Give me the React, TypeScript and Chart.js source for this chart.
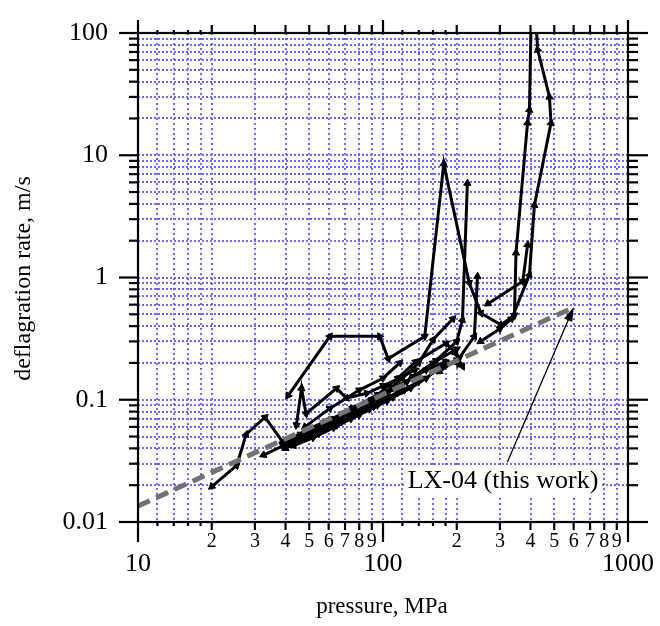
import React, { useEffect, useRef } from "react";
import { Chart, registerables } from "chart.js";

Chart.register(...registerables);

// ---------- axis definitions ----------
const X_MIN = 10;
const X_MAX = 1000;
const Y_MIN = 0.01;
const Y_MAX = 100;
const X_MAJOR = [10, 100, 1000];
const X_MAJOR_LABELS = ["10", "100", "1000"];
const X_MINOR = [20, 30, 40, 50, 60, 70, 80, 90, 200, 300, 400, 500, 600, 700, 800, 900];
const X_MINOR_LABELS = ["2", "3", "4", "5", "6", "7", "8", "9", "2", "3", "4", "5", "6", "7", "8", "9"];
const X_SUB = [12, 14, 16, 18, 120, 140, 160, 180];
const Y_MAJOR = [0.01, 0.1, 1, 10, 100];
const Y_MAJOR_LABELS = ["0.01", "0.1", "1", "10", "100"];
const Y_MINOR = [
  0.02, 0.03, 0.04, 0.05, 0.06, 0.07, 0.08, 0.09,
  0.2, 0.3, 0.4, 0.5, 0.6, 0.7, 0.8, 0.9,
  2, 3, 4, 5, 6, 7, 8, 9,
  20, 30, 40, 50, 60, 70, 80, 90,
];
const X_TITLE = "pressure, MPa";
const Y_TITLE = "deflagration rate, m/s";
const NOTE_TEXT = "LX-04 (this work)";

// ---------- data (pressure MPa, rate m/s) ----------
const LX04_FIT = [[10, 0.0135], [600, 0.57]];
const NOTE_FROM = [322, 0.031];
const NOTE_TO = [600, 0.57];

const S0 = [[32.5, 0.0353], [39, 0.042], [45, 0.047], [54, 0.055], [64, 0.064], [76, 0.076], [90, 0.089], [105, 0.1]];
const S1 = [[20, 0.0195], [25.3, 0.029], [27.6, 0.052], [33, 0.072], [39, 0.045], [46, 0.052], [55, 0.06], [66, 0.07], [80, 0.085], [95, 0.1]];
const S2 = [[41, 0.108], [60.7, 0.33], [97, 0.33], [105, 0.216], [148, 0.33], [177, 8.5], [225, 0.9], [251, 0.51], [303, 0.41], [344, 0.49], [349, 1.59], [389, 18.4], [396, 23.5], [402, 120]];
const S3 = [[250, 0.3], [300, 0.38], [335, 0.46], [396, 1.05], [415, 3.9], [485, 18.3], [478, 30], [428, 73], [421, 120]];
const S4 = [[130, 0.15], [165, 0.21], [200, 0.3], [211, 0.45], [221, 5.9]];
const S5 = [[100, 0.11], [120, 0.15], [140, 0.2], [160, 0.31], [193, 0.46]];
const S6 = [[170, 0.17], [205, 0.22], [236, 0.33], [243, 1.02]];
const S7 = [[268, 0.61], [372, 0.93], [389, 1.85]];
const B1 = [[40, 0.04], [45, 0.046], [55, 0.053], [65, 0.062], [80, 0.075], [95, 0.09], [110, 0.105], [130, 0.125], [150, 0.15], [175, 0.19], [200, 0.21]];
const B2 = [[41, 0.044], [48, 0.052], [60, 0.062], [75, 0.078], [90, 0.1], [105, 0.115], [125, 0.14], [150, 0.175], [180, 0.205], [205, 0.195]];
const B3 = [[42, 0.048], [50, 0.058], [62, 0.07], [76, 0.086], [92, 0.1], [110, 0.125], [135, 0.155], [160, 0.2], [200, 0.26]];
const B4 = [[40, 0.041], [44, 0.044], [50, 0.05], [58, 0.058], [68, 0.066], [80, 0.078], [92, 0.088], [100, 0.1], [115, 0.115]];
const B5 = [[44.3, 0.062], [46.5, 0.124], [48.5, 0.077], [64.6, 0.124], [70.9, 0.103], [86, 0.113], [100, 0.13], [117, 0.15], [135, 0.175]];
const B6 = [[60, 0.065], [75, 0.085], [95, 0.11], [115, 0.15], [136, 0.205], [181, 0.29], [198, 0.24], [211, 0.187]];
const B7 = [[48, 0.06], [60.7, 0.085], [80, 0.12], [100, 0.15], [117, 0.2]];
const B8 = [[41, 0.046], [47, 0.05], [56, 0.057], [68, 0.069], [82, 0.082], [98, 0.096], [118, 0.118], [140, 0.14]];
const B9 = [[43, 0.042], [52, 0.049], [63, 0.059], [74, 0.07], [88, 0.084], [104, 0.098], [122, 0.12]];

const SERIES = [S0, S1, S2, S3, S4, S5, S6, S7, B1, B2, B3, B4, B5, B6, B7, B8, B9];

const GRID_COLOR = "#6a6aff";
const FONT = '"Liberation Serif", "Times New Roman", serif';

const toXY = (arr: number[][]) => arr.map(([x, y]) => ({ x, y }));

const markerRotation = (c: any) => {
  const data = c.dataset.data;
  const i = c.dataIndex;
  const p = data[i];
  const q = i > 0 ? data[i - 1] : data[1];
  if (!p || !q) return 0;
  const xs = c.chart.scales.x;
  const ys = c.chart.scales.y;
  const dx = xs.getPixelForValue(p.x) - xs.getPixelForValue(q.x);
  const dy = ys.getPixelForValue(p.y) - ys.getPixelForValue(q.y);
  return (Math.atan2(dx, -dy) * 180) / Math.PI;
};

const decor = {
  id: "decor",
  beforeDatasetsDraw(chart: any) {
    const { ctx, chartArea, scales } = chart;
    const { left, right, top, bottom } = chartArea;
    const xs = scales.x;
    const ys = scales.y;
    ctx.save();
    ctx.fillStyle = "#fff";
    ctx.fillRect(left, top, right - left, bottom - top);
    ctx.strokeStyle = GRID_COLOR;
    ctx.lineWidth = 2;
    ctx.setLineDash([2, 3]);
    for (const v of [...X_SUB, ...X_MINOR, 100]) {
      const px = Math.round(xs.getPixelForValue(v));
      ctx.beginPath();
      ctx.moveTo(px, top);
      ctx.lineTo(px, bottom);
      ctx.stroke();
    }
    ctx.setLineDash([2, 2]);
    for (const v of [...Y_MINOR, 0.1, 1, 10]) {
      const py = Math.round(ys.getPixelForValue(v));
      ctx.beginPath();
      ctx.moveTo(left, py);
      ctx.lineTo(right, py);
      ctx.stroke();
    }
    ctx.restore();
  },
  afterDatasetsDraw(chart: any) {
    const { ctx, chartArea, scales } = chart;
    const { left, right, top, bottom } = chartArea;
    const xs = scales.x;
    const ys = scales.y;
    ctx.save();
    ctx.strokeStyle = "#000";
    ctx.fillStyle = "#000";
    ctx.lineWidth = 2.2;
    ctx.setLineDash([]);
    ctx.strokeRect(left, top, right - left, bottom - top);
    const seg = (x1: number, y1: number, x2: number, y2: number) => {
      ctx.beginPath();
      ctx.moveTo(x1, y1);
      ctx.lineTo(x2, y2);
      ctx.stroke();
    };
    X_MAJOR.forEach((v) => {
      const px = xs.getPixelForValue(v);
      seg(px, bottom, px, bottom + 20);
      seg(px, top, px, top - 13);
    });
    X_MINOR.forEach((v) => {
      const px = xs.getPixelForValue(v);
      seg(px, bottom, px, bottom + 8);
      seg(px, top, px, top - 8);
    });
    X_SUB.forEach((v) => {
      const px = xs.getPixelForValue(v);
      seg(px, bottom, px, bottom + 4);
      seg(px, top, px, top - 3);
    });
    Y_MAJOR.forEach((v) => {
      const py = ys.getPixelForValue(v);
      seg(left, py, left - 19, py);
      seg(right, py, right + 20, py);
    });
    Y_MINOR.forEach((v) => {
      const py = ys.getPixelForValue(v);
      seg(left, py, left - 9, py);
      seg(right, py, right + 10, py);
    });
    ctx.textBaseline = "middle";
    ctx.textAlign = "center";
    ctx.font = `20px ${FONT}`;
    X_MINOR.forEach((v, i) => {
      ctx.fillText(X_MINOR_LABELS[i], xs.getPixelForValue(v), bottom + 20);
    });
    ctx.font = `26px ${FONT}`;
    X_MAJOR.forEach((v, i) => {
      ctx.fillText(X_MAJOR_LABELS[i], xs.getPixelForValue(v), bottom + 42);
    });
    ctx.textAlign = "right";
    Y_MAJOR.forEach((v, i) => {
      ctx.fillText(Y_MAJOR_LABELS[i], left - 30, ys.getPixelForValue(v));
    });
    ctx.textAlign = "center";
    ctx.font = `23px ${FONT}`;
    ctx.fillText(X_TITLE, (left + right) / 2 - 1, 607);
    ctx.font = `24px ${FONT}`;
    ctx.save();
    ctx.translate(24, (top + bottom) / 2 + 1);
    ctx.rotate(-Math.PI / 2);
    ctx.fillText(Y_TITLE, 0, 0);
    ctx.restore();
    // annotation
    const ax1 = xs.getPixelForValue(NOTE_FROM[0]);
    const ay1 = ys.getPixelForValue(NOTE_FROM[1]);
    const ax2 = xs.getPixelForValue(NOTE_TO[0]);
    const ay2 = ys.getPixelForValue(NOTE_TO[1]);
    ctx.lineWidth = 1.3;
    const ang = Math.atan2(ay2 - ay1, ax2 - ax1);
    seg(ax1, ay1, ax2 - 10 * Math.cos(ang), ay2 - 10 * Math.sin(ang));
    ctx.beginPath();
    ctx.moveTo(ax2, ay2);
    ctx.lineTo(ax2 - 14 * Math.cos(ang) + 4.5 * Math.sin(ang), ay2 - 14 * Math.sin(ang) - 4.5 * Math.cos(ang));
    ctx.lineTo(ax2 - 14 * Math.cos(ang) - 4.5 * Math.sin(ang), ay2 - 14 * Math.sin(ang) + 4.5 * Math.cos(ang));
    ctx.closePath();
    ctx.fill();
    ctx.font = `26px ${FONT}`;
    ctx.fillStyle = "#fff";
    const tw = ctx.measureText(NOTE_TEXT).width;
    ctx.fillRect(503 - tw / 2 - 2, ay1 + 5, tw + 4, 28);
    ctx.fillStyle = "#000";
    ctx.textAlign = "center";
    ctx.fillText(NOTE_TEXT, 503, ay1 + 19);
    ctx.restore();
  },
};

export default function App() {
  const ref = useRef<HTMLCanvasElement | null>(null);
  useEffect(() => {
    if (!ref.current) return;
    const datasets: any[] = [
      {
        data: toXY(LX04_FIT),
        borderColor: "#727272",
        borderWidth: 5,
        borderDash: [13, 7],
        pointRadius: 0,
        showLine: true,
        order: 0,
      },
      ...SERIES.map((s) => ({
        data: toXY(s),
        borderColor: "#000",
        backgroundColor: "#000",
        borderWidth: 3,
        pointStyle: "triangle",
        pointRadius: 4.2,
        pointBorderWidth: 1,
        pointRotation: markerRotation,
        showLine: true,
        order: 1,
      })),
    ];
    const chart = new Chart(ref.current, {
      type: "scatter",
      data: { datasets },
      options: {
        animation: false,
        responsive: false,
        devicePixelRatio: 1,
        layout: { padding: { left: 138, right: 32, top: 33, bottom: 104 } },
        plugins: { legend: { display: false }, tooltip: { enabled: false } },
        scales: {
          x: { type: "logarithmic", min: X_MIN, max: X_MAX, display: false },
          y: { type: "logarithmic", min: Y_MIN, max: Y_MAX, display: false },
        },
      },
      plugins: [decor],
    });
    return () => chart.destroy();
  }, []);
  return (
    <div style={{ position: "fixed", left: 0, top: 0, width: 660, height: 626, background: "#fff" }}>
      <canvas ref={ref} width={660} height={626} style={{ display: "block" }} />
    </div>
  );
}
